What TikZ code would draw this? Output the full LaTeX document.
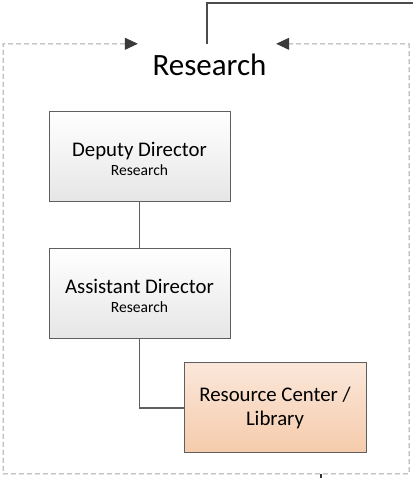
\documentclass[tikz,border=0pt]{standalone}
\usepackage{fontspec}
\setmainfont{Carlito}
\usetikzlibrary{arrows.meta, positioning}

\definecolor{boxline}{HTML}{5F5F5F}
\definecolor{grpline}{HTML}{A6A6A6}
\definecolor{tipgray}{HTML}{3A3A3A}
\definecolor{peachtop}{HTML}{FBE7DA}
\definecolor{peachbot}{HTML}{F5CBAB}

\begin{document}
\begin{tikzpicture}[
    x=1pt, y=1pt,
    block/.style={draw=boxline, line width=1pt, text centered, align=center,
    top color=white, bottom color=black!10,
    minimum height=90pt, minimum width=181pt, inner sep=0pt,
    font=\fontsize{20.8}{19}\selectfont},
    libblock/.style={block, top color=peachtop, bottom color=peachbot,
    minimum width=182pt, font=\fontsize{20.8}{24}\selectfont},
    title/.style={draw=none, text centered, inner sep=0pt,
    minimum height=42pt, minimum width=138pt,
    font=\fontsize{31}{36}\selectfont},
    link/.style={draw=boxline, line width=1.2pt},
    feed/.style={draw=black!70, line width=2pt},
    group/.style={draw=grpline, line width=1pt, dash pattern=on 5pt off 3pt,
    {Triangle[length=13pt, width=12pt, color=tipgray]}-{Triangle[length=13pt, width=12pt, color=tipgray]}}
    ]
    \useasboundingbox (0,0) rectangle (413,478);

    \node[title]    (title)  at (207,413)                            {\hspace*{5pt}Research};

    \node[block]    (dep)    at (139.5,321)  {\rule{0pt}{19pt}Deputy Director\\{\fontsize{15.6}{19}\selectfont Research}};
    \node[block]    (asst)   [below=46pt of dep]   {\rule{0pt}{19pt}Assistant Director\\{\fontsize{15.6}{19}\selectfont Research}};
    \node[libblock] (lib)    [below right=23pt and 135pt of asst.south west] {Resource Center /\\Library};

    \coordinate (feedout) at (413,475);
    \coordinate (libin)   at (321,0);

    % container round the section
    \draw[group] (title.north west) -- (3,434) |- (409,4) -- (409,434) -- (title.north east);

    \path[link]
      (dep)  edge  (asst)
    ;
    \draw[link] (asst) |- (lib);

    \draw[feed] (title.north) |- (feedout);
    \draw[link, draw=black!80] (libin) -- (321,4);
  \end{tikzpicture}
\end{document}
